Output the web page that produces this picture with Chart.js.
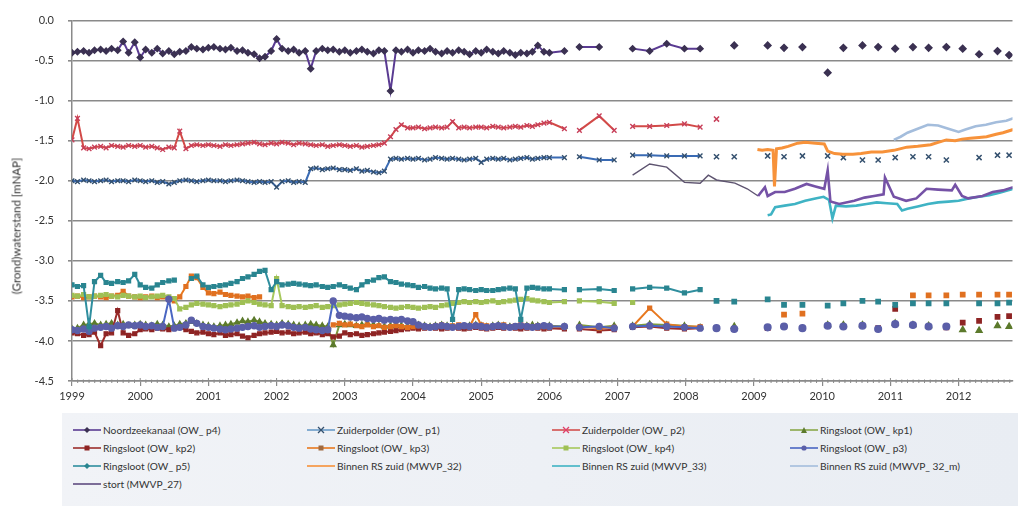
<!DOCTYPE html>
<html>
<head>
<meta charset="utf-8">
<script src="https://cdn.jsdelivr.net/npm/chart.js@4.4.1/dist/chart.umd.min.js"></script>
<style>
html, body { margin: 0; padding: 0; background: #fff; }
#wrap { position: relative; width: 1018px; height: 506px; overflow: hidden; font-family: Lato, "Open Sans", sans-serif; }
#chartBox { position: absolute; left: 0; top: 0; width: 1018px; height: 412px; }
#ytitle { position: absolute; left: 16px; top: 226px; transform: translate(-50%, -50%) rotate(-90deg); font-size: 11.5px; color: #333; white-space: nowrap; }
#legend { position: absolute; left: 62px; top: 413px; width: 956px; height: 93px; background: linear-gradient(90deg, #f1f3f7, #e9edf3); }
.lg { position: absolute; font-size: 10.2px; color: #333; white-space: nowrap; height: 12px; line-height: 12px; display: flex; align-items: center; }
.lg svg { margin-right: 2px; }
</style>
</head>
<body>
<div id="wrap">
  <div id="chartBox"><canvas id="canva1" width="1018" height="412"></canvas></div>
  <div id="ytitle">(Grond)waterstand [mNAP]</div>
  <div id="legend"></div>
</div>
<script>
// assen
var yearTicks = [1999, 2000, 2001, 2002, 2003, 2004, 2005, 2006, 2007, 2008, 2009, 2010, 2011, 2012];
var yTicks = [0, -0.5, -1, -1.5, -2, -2.5, -3, -3.5, -4, -4.5];

var seriesNames = ['Noordzeekanaal (OW_ p4)', 'Zuiderpolder (OW_ p1)', 'Zuiderpolder (OW_ p2)', 'Ringsloot (OW_ kp1)',
  'Ringsloot (OW_ kp2)', 'Ringsloot (OW_ kp3)', 'Ringsloot (OW_ kp4)', 'Ringsloot (OW_ p3)',
  'Ringsloot (OW_ p5)', 'Binnen RS zuid (MWVP_32)', 'Binnen RS zuid (MWVP_33)', 'Binnen RS zuid (MWVP_ 32_m)',
  'stort  (MWVP_27)'];

// meetdata 1999-2006 (maandelijks)
var tDense = [
  1999.00,1999.08,1999.17,1999.25,1999.33,1999.42,1999.50,1999.58,1999.67,1999.75,1999.83,1999.92,
  2000.00,2000.08,2000.17,2000.25,2000.33,2000.42,2000.50,2000.58,2000.67,2000.75,2000.83,2000.92,
  2001.00,2001.08,2001.17,2001.25,2001.33,2001.42,2001.50,2001.58,2001.67,2001.75,2001.83,2001.92,
  2002.00,2002.08,2002.17,2002.25,2002.33,2002.42,2002.50,2002.58,2002.67,2002.75,2002.83,2002.92,
  2003.00,2003.08,2003.17,2003.25,2003.33,2003.42,2003.50,2003.58,2003.67,2003.75,2003.83,2003.92,
  2004.00,2004.08,2004.17,2004.25,2004.33,2004.42,2004.50,2004.58,2004.67,2004.75,2004.83,2004.92,
  2005.00,2005.08,2005.17,2005.25,2005.33,2005.42,2005.50,2005.58,2005.67,2005.75,2005.83,2005.92,
  2006.00];

var nzkDense = [
  -0.40,-0.39,-0.38,-0.40,-0.37,-0.36,-0.38,-0.35,-0.37,-0.26,-0.40,-0.27,
  -0.46,-0.36,-0.40,-0.35,-0.41,-0.38,-0.42,-0.39,-0.38,-0.33,-0.35,-0.36,
  -0.34,-0.33,-0.35,-0.36,-0.34,-0.38,-0.37,-0.40,-0.42,-0.47,-0.45,-0.38,
  -0.23,-0.35,-0.38,-0.36,-0.40,-0.38,-0.60,-0.38,-0.35,-0.37,-0.36,-0.39,
  -0.37,-0.40,-0.38,-0.36,-0.39,-0.41,-0.37,-0.38,-0.88,-0.37,-0.39,-0.36,
  -0.40,-0.37,-0.38,-0.35,-0.39,-0.41,-0.38,-0.40,-0.37,-0.39,-0.42,-0.38,
  -0.40,-0.36,-0.39,-0.41,-0.38,-0.40,-0.43,-0.40,-0.41,-0.39,-0.31,-0.39,
  -0.40];
var p1Dense = [
  -2.00,-2.01,-1.99,-2.00,-2.01,-2.00,-1.99,-2.01,-2.00,-2.00,-2.01,-1.99,
  -2.00,-2.01,-2.00,-2.02,-2.01,-2.04,-2.02,-2.00,-1.99,-2.00,-2.01,-2.00,
  -1.99,-2.00,-2.00,-2.01,-2.00,-1.99,-2.00,-2.01,-2.02,-2.01,-2.02,-2.01,
  -2.08,-2.01,-2.00,-2.02,-2.01,-2.02,-1.85,-1.84,-1.86,-1.85,-1.84,-1.86,
  -1.86,-1.87,-1.85,-1.88,-1.87,-1.89,-1.90,-1.88,-1.73,-1.72,-1.73,-1.72,
  -1.73,-1.72,-1.74,-1.73,-1.71,-1.72,-1.73,-1.72,-1.73,-1.74,-1.73,-1.72,
  -1.77,-1.73,-1.72,-1.73,-1.72,-1.74,-1.73,-1.72,-1.71,-1.73,-1.72,-1.71,
  -1.71];
var p2Dense = [
  -1.49,-1.22,-1.59,-1.60,-1.58,-1.57,-1.59,-1.56,-1.57,-1.58,-1.56,-1.57,
  -1.56,-1.58,-1.57,-1.59,-1.61,-1.58,-1.59,-1.38,-1.60,-1.56,-1.55,-1.56,
  -1.55,-1.56,-1.57,-1.55,-1.56,-1.55,-1.54,-1.53,-1.52,-1.54,-1.55,-1.53,
  -1.54,-1.52,-1.53,-1.55,-1.53,-1.54,-1.55,-1.56,-1.55,-1.57,-1.56,-1.55,
  -1.56,-1.57,-1.56,-1.58,-1.57,-1.56,-1.55,-1.53,-1.45,-1.36,-1.30,-1.34,
  -1.34,-1.33,-1.35,-1.34,-1.33,-1.34,-1.33,-1.26,-1.34,-1.33,-1.34,-1.33,
  -1.33,-1.34,-1.32,-1.33,-1.34,-1.33,-1.32,-1.33,-1.31,-1.32,-1.30,-1.28,
  -1.27];
var kp1Dense = [
  -3.85,-3.84,-3.80,-3.79,-3.78,-3.80,-3.79,-3.78,-3.80,-3.79,-3.81,-3.80,
  -3.79,-3.80,-3.81,-3.79,-3.80,-3.82,-3.81,-3.79,-3.78,-3.76,-3.78,-3.80,
  -3.81,-3.82,-3.81,-3.80,-3.79,-3.77,-3.75,-3.76,-3.74,-3.76,-3.78,-3.79,
  -3.80,-3.78,-3.79,-3.80,-3.81,-3.80,-3.79,-3.80,-3.81,-3.82,-4.05,-3.80,
  -3.79,-3.80,-3.81,-3.80,-3.79,-3.80,-3.81,-3.82,-3.81,-3.80,-3.81,-3.82,
  -3.81,-3.80,-3.81,-3.82,-3.81,-3.80,-3.81,-3.82,-3.83,-3.82,-3.81,-3.80,
  -3.81,-3.82,-3.81,-3.80,-3.81,-3.82,-3.83,-3.82,-3.81,-3.80,-3.81,-3.82,
  -3.81];
var kp2Dense = [
  -3.90,-3.91,-3.93,-3.92,-3.89,-4.06,-3.91,-3.90,-3.62,-3.90,-3.93,-3.91,
  -3.86,-3.85,-3.86,-3.84,-3.85,-3.86,-3.84,-3.83,-3.86,-3.88,-3.90,-3.89,
  -3.91,-3.92,-3.90,-3.93,-3.92,-3.91,-3.94,-3.96,-3.93,-3.91,-3.90,-3.89,
  -3.88,-3.90,-3.89,-3.91,-3.90,-3.89,-3.91,-3.90,-3.92,-3.91,-3.95,-3.94,
  -3.90,-3.92,-3.91,-3.93,-3.92,-3.91,-3.90,-3.89,-3.88,-3.87,-3.86,-3.85,
  -3.84,-3.85,-3.84,-3.83,-3.84,-3.85,-3.84,-3.83,-3.84,-3.85,-3.84,-3.83,
  -3.84,-3.85,-3.84,-3.83,-3.84,-3.83,-3.84,-3.85,-3.84,-3.83,-3.84,-3.85,
  -3.84];
var kp3Dense = [
  -3.45,-3.44,-3.46,-3.45,-3.44,-3.45,-3.46,-3.44,-3.43,-3.38,-3.44,-3.45,
  -3.46,-3.45,-3.44,-3.46,-3.45,-3.47,-3.50,-3.45,-3.32,-3.19,-3.21,-3.33,
  -3.40,-3.41,-3.39,-3.42,-3.43,-3.44,-3.45,-3.44,-3.46,-3.45,null,null,
  null,null,null,null,null,null,null,null,null,null,-3.80,-3.78,
  -3.80,-3.79,-3.81,-3.82,-3.80,-3.82,-3.81,-3.83,-3.82,-3.81,-3.82,-3.83,
  -3.82,-3.81,-3.83,-3.82,-3.81,-3.80,-3.82,-3.81,-3.80,-3.81,-3.82,-3.67,
  -3.80,-3.81,-3.82,-3.81,-3.80,-3.82,-3.81,-3.80,-3.81,-3.82,-3.81,-3.82,
  -3.82];
var kp4Dense = [
  -3.43,-3.44,-3.42,-3.45,-3.44,-3.43,-3.42,-3.44,-3.45,-3.43,-3.44,-3.45,
  -3.44,-3.46,-3.45,-3.44,-3.43,-3.45,-3.47,-3.60,-3.58,-3.55,-3.53,-3.54,
  -3.55,-3.56,-3.57,-3.56,-3.55,-3.54,-3.52,-3.50,-3.52,-3.54,-3.55,-3.56,
  -3.22,-3.56,-3.57,-3.58,-3.57,-3.58,-3.57,-3.56,-3.58,-3.57,-3.56,-3.55,
  -3.54,-3.53,-3.52,-3.53,-3.54,-3.55,-3.56,-3.57,-3.58,-3.59,-3.58,-3.57,
  -3.58,-3.59,-3.58,-3.57,-3.58,-3.56,-3.55,-3.53,-3.52,-3.51,-3.52,-3.51,
  -3.52,-3.51,-3.50,-3.52,-3.51,-3.50,-3.49,-3.48,-3.47,-3.49,-3.50,-3.51,
  -3.52];
var p3Dense = [
  -3.86,-3.87,-3.85,-3.88,-3.84,-3.83,-3.82,-3.84,-3.81,-3.82,-3.80,-3.81,
  -3.80,-3.82,-3.81,-3.83,-3.82,-3.48,-3.84,-3.83,-3.80,-3.74,-3.78,-3.82,
  -3.83,-3.84,-3.85,-3.86,-3.85,-3.84,-3.83,-3.82,-3.81,-3.83,-3.82,-3.81,
  -3.82,-3.80,-3.81,-3.83,-3.84,-3.83,-3.85,-3.86,-3.87,-3.86,-3.50,-3.68,
  -3.69,-3.70,-3.71,-3.70,-3.72,-3.73,-3.72,-3.74,-3.73,-3.74,-3.73,-3.75,
  -3.76,-3.80,-3.82,-3.83,-3.82,-3.81,-3.82,-3.83,-3.82,-3.81,-3.82,-3.81,
  -3.82,-3.83,-3.82,-3.81,-3.82,-3.83,-3.82,-3.81,-3.82,-3.83,-3.82,-3.81,
  -3.82];
var p5Dense = [
  -3.30,-3.32,-3.31,-3.82,-3.26,-3.18,-3.27,-3.28,-3.26,-3.27,-3.25,-3.17,
  -3.30,-3.33,-3.34,-3.30,-3.27,-3.25,-3.24,null,null,-3.22,-3.19,-3.30,
  -3.33,-3.32,-3.31,-3.30,-3.28,-3.26,-3.22,-3.20,-3.17,-3.13,-3.12,-3.36,
  -3.26,-3.30,-3.29,-3.28,-3.29,-3.30,-3.31,-3.30,-3.32,-3.33,-3.32,-3.30,
  -3.32,-3.34,-3.36,-3.30,-3.26,-3.24,-3.21,-3.20,-3.26,-3.27,-3.29,-3.30,
  -3.31,-3.33,-3.32,-3.34,-3.35,-3.34,-3.35,-3.73,-3.36,-3.35,-3.36,-3.37,
  -3.36,-3.37,-3.37,-3.36,-3.35,-3.34,-3.35,-3.73,-3.34,-3.33,-3.34,-3.35,
  -3.35];

// losse metingen 2006-2008 (null = onderbreking)
var tLink = [2006.22, 2006.33, 2006.44, 2006.73, 2006.95, 2007.08, 2007.22, 2007.47, 2007.72, 2007.98, 2008.21];
var nzkLink = [-0.38, null, -0.33, -0.33, null, null, -0.35, -0.38, -0.29, -0.35, -0.35];
var p1Link  = [-1.71, null, -1.70, -1.74, -1.74, null, -1.68, -1.68, -1.69, -1.69, -1.69];
var p2Link  = [-1.35, null, -1.37, -1.19, -1.37, null, -1.32, -1.32, -1.31, -1.29, -1.33];
var kp1Link = [-3.82, null, -3.80, -3.83, -3.81, null, -3.81, -3.79, -3.80, -3.81, -3.83];
var kp2Link = [-3.85, null, -3.85, -3.87, -3.86, null, -3.83, -3.82, -3.84, -3.85, -3.84];
var kp3Link = [-3.83, null, -3.82, -3.84, -3.83, null, -3.82, -3.59, -3.79, -3.82, -3.82];
var kp4Link = [-3.51, null, -3.50, -3.51, -3.53, null, -3.52, null, null, null, null];
var p3Link  = [-3.82, null, -3.83, -3.82, -3.84, null, -3.82, -3.81, -3.82, -3.83, -3.84];
var p5Link  = [-3.36, null, -3.36, -3.35, -3.37, null, -3.35, -3.33, -3.34, -3.40, -3.36];

// losse punten 2008-2012
var tDots = [2008.45, 2008.71, 2009.20, 2009.44, 2009.71, 2010.08, 2010.31, 2010.59, 2010.82, 2011.07, 2011.33, 2011.56, 2011.82, 2012.06, 2012.30, 2012.57, 2012.74];
var nzkDots = [null, -0.31, -0.31, -0.34, -0.33, -0.65, -0.34, -0.31, -0.33, -0.35, -0.33, -0.34, -0.33, -0.35, -0.42, -0.38, -0.43];
var p1Dots  = [-1.70, -1.70, -1.69, -1.70, -1.69, -1.69, -1.71, -1.74, -1.74, -1.71, -1.70, -1.70, -1.74, null, -1.71, -1.68, -1.68];
var p2Dots  = [-1.23, null, null, null, null, null, null, null, null, null, null, null, null, null, null, null, null];
var kp1Dots = [null, -3.82, null, null, null, -3.80, -3.80, -3.80, null, -3.78, -3.80, -3.81, null, -3.86, -3.87, -3.81, -3.82];
var kp2Dots = [null, null, -3.84, null, null, null, null, null, -3.84, -3.60, null, null, -3.83, -3.77, -3.75, -3.70, -3.69];
var kp3Dots = [null, null, null, -3.67, -3.66, null, null, null, null, null, -3.43, -3.43, -3.43, -3.42, -3.42, -3.42, -3.42];
var p3Dots  = [-3.84, -3.85, -3.83, -3.82, -3.84, -3.81, -3.82, -3.81, -3.85, -3.79, -3.80, -3.82, -3.82, null, null, null, null];
var p5Dots  = [-3.50, -3.51, -3.48, -3.55, -3.55, -3.56, -3.53, -3.50, -3.51, -3.55, -3.53, -3.53, -3.53, null, -3.53, -3.53, -3.52];

// peilbuizen
var mw32T = [2009.05, 2009.12, 2009.20, 2009.28, 2009.30, 2009.33, 2009.41, 2009.50, 2009.64, 2009.75, 2009.90, 2010.03, 2010.08, 2010.18, 2010.30, 2010.45, 2010.57, 2010.72, 2010.88, 2011.05, 2011.24, 2011.40, 2011.59, 2011.70, 2011.82, 2011.95, 2012.05, 2012.17, 2012.30, 2012.41, 2012.55, 2012.65, 2012.80];
var mw32V = [-1.61, -1.62, -1.61, -1.62, -2.07, -1.60, -1.59, -1.57, -1.53, -1.52, -1.53, -1.54, -1.63, -1.66, -1.67, -1.67, -1.66, -1.64, -1.64, -1.62, -1.58, -1.57, -1.55, -1.52, -1.49, -1.50, -1.48, -1.47, -1.46, -1.45, -1.42, -1.40, -1.36];
var mw33T = [2009.20, 2009.25, 2009.31, 2009.45, 2009.60, 2009.75, 2009.90, 2010.02, 2010.10, 2010.15, 2010.20, 2010.35, 2010.50, 2010.65, 2010.80, 2010.95, 2011.10, 2011.17, 2011.25, 2011.40, 2011.55, 2011.70, 2011.85, 2012.00, 2012.15, 2012.30, 2012.45, 2012.60, 2012.80];
var mw33V = [-2.43, -2.42, -2.33, -2.31, -2.29, -2.25, -2.22, -2.20, -2.24, -2.47, -2.31, -2.32, -2.31, -2.29, -2.27, -2.28, -2.29, -2.37, -2.35, -2.32, -2.29, -2.27, -2.26, -2.25, -2.22, -2.20, -2.18, -2.15, -2.10];
var mw32mT = [2011.05, 2011.15, 2011.25, 2011.40, 2011.55, 2011.70, 2011.85, 2012.00, 2012.10, 2012.25, 2012.40, 2012.55, 2012.70, 2012.80];
var mw32mV = [-1.49, -1.45, -1.40, -1.35, -1.30, -1.31, -1.35, -1.39, -1.36, -1.32, -1.30, -1.27, -1.25, -1.22];
var stortT = [2007.22, 2007.47, 2007.72, 2007.98, 2008.21, 2008.33, 2008.45, 2008.72, 2008.90, 2009.06, 2009.16, 2009.20, 2009.31, 2009.45, 2009.60, 2009.77, 2009.90, 2010.03, 2010.08, 2010.12, 2010.25, 2010.47, 2010.62, 2010.76, 2010.90, 2010.92, 2011.05, 2011.23, 2011.38, 2011.53, 2011.70, 2011.90, 2011.95, 2012.05, 2012.14, 2012.35, 2012.50, 2012.65, 2012.80];
var stortV = [-1.93, -1.79, -1.83, -2.02, -2.03, -1.93, -1.99, -2.03, -2.10, -2.19, -2.08, -2.19, -2.14, -2.14, -2.10, -2.04, -2.07, -2.10, -1.87, -2.26, -2.29, -2.25, -2.21, -2.19, -2.17, -1.96, -2.20, -2.25, -2.22, -2.10, -2.11, -2.12, -2.05, -2.19, -2.22, -2.19, -2.14, -2.12, -2.08];

// stijl per reeks
var owSeries = [
  { dense: nzkDense, link: nzkLink, dots: nzkDots, line: '#5a3b92', mark: '#3b3152', style: 'rectRot', r: 3 },
  { dense: p1Dense, link: p1Link, dots: p1Dots, line: '#3a6bb4', mark: '#34506e', style: 'crossRot', r: 3.3 },
  { dense: p2Dense, link: p2Link, dots: p2Dots, line: '#d24a48', mark: '#c8405a', style: 'crossRot', r: 3.3 },
  { dense: kp1Dense, link: kp1Link, dots: kp1Dots, line: '#7d9a3e', mark: '#5c7a2c', style: 'triangle', r: 3 },
  { dense: kp2Dense, link: kp2Link, dots: kp2Dots, line: '#9b2d2b', mark: '#8e2424', style: 'rect', r: 2.7 },
  { dense: kp3Dense, link: kp3Link, dots: kp3Dots, line: '#e8781e', mark: '#e07020', style: 'rect', r: 2.7 },
  { dense: kp4Dense, link: kp4Link, dots: null, line: '#a7c85c', mark: '#9fc055', style: 'rect', r: 2.7 },
  { dense: p3Dense, link: p3Link, dots: p3Dots, line: '#4a66c2', mark: '#5b5fa8', style: 'circle', r: 3 },
  { dense: p5Dense, link: p5Link, dots: p5Dots, line: '#2f8e9e', mark: '#2a8590', style: 'rect', r: 2.7 }
];
var pbSeries = [
  { t: mw32T, v: mw32V, line: '#f7923a', w: 3 },
  { t: mw33T, v: mw33V, line: '#3fb3c4', w: 2.6 },
  { t: mw32mT, v: mw32mV, line: '#a4bddc', w: 2.6 },
  { t: stortT, v: stortV, line: '#7552a6', w: 2.6, early: '#5e5470' }
];

var datasets = [];
var volgorde = 200;

owSeries.forEach(function (s) {
  var pts = tDense.map(function (t, k) { return { x: t, y: s.dense[k] }; })
    .concat(tLink.map(function (t, k) { return { x: t, y: s.link[k] }; }));
  datasets.push({
    data: pts, borderColor: s.line, backgroundColor: s.mark, borderWidth: 2,
    pointStyle: s.style, pointRadius: s.r, pointBackgroundColor: s.mark, pointBorderColor: s.mark,
    pointBorderWidth: 1.4, spanGaps: false, tension: 0, order: volgorde--
  });
  if (s.dots) {
    datasets.push({
      data: tDots.map(function (t, k) { return { x: t, y: s.dots[k] }; }),
      showLine: false, pointStyle: s.style, pointRadius: s.r + 0.3, pointBackgroundColor: s.mark,
      pointBorderColor: s.mark, pointBorderWidth: 1.5, order: volgorde--
    });
  }
});

pbSeries.forEach(function (s) {
  var ds = {
    data: s.t.map(function (t, k) { return { x: t, y: s.v[k] }; }),
    borderColor: s.line, borderWidth: s.w, pointRadius: 0, tension: 0, order: volgorde--
  };
  if (s.early) {
    // stort: dunne lijn voor 2009
    ds.segment = {
      borderWidth: function (c) { return c.p0.parsed.x < 2009 ? 1.4 : s.w; },
      borderColor: function (c) { return c.p0.parsed.x < 2009 ? s.early : s.line; }
    };
  }
  datasets.push(ds);
});

// kleine maandstreepjes op de x-as
var asStreepjes = {
  id: 'asStreepjes',
  afterDraw: function (chart) {
    var sx = chart.scales.x, ctx = chart.ctx, b = chart.chartArea.bottom;
    ctx.save();
    ctx.strokeStyle = '#8a8a8a';
    ctx.lineWidth = 1;
    for (var m = 0; m < 12 * 14; m++) {
      var px = sx.getPixelForValue(1999 + m / 12);
      if (px > chart.chartArea.right) break;
      ctx.beginPath();
      if (m % 12 === 0) { ctx.moveTo(px, b - 3); ctx.lineTo(px, b); }
      else { ctx.moveTo(px, b - 1.5); ctx.lineTo(px, b + 2); }
      ctx.stroke();
    }
    ctx.restore();
  }
};

var ctx = document.getElementById('canva1').getContext('2d');
var myChart1 = new Chart(ctx, {
  type: 'line',
  data: { datasets: datasets },
  options: {
    responsive: false,
    animation: false,
    layout: { padding: { left: 0, right: 0, top: 13, bottom: 0 } },
    plugins: { legend: { display: false }, tooltip: { enabled: false } },
    scales: {
      x: {
        type: 'linear', min: 1999, max: 2012.79,
        afterBuildTicks: function (s) { s.ticks = yearTicks.map(function (v) { return { value: v }; }); },
        afterFit: function (s) { s.height = 31; },
        grid: { drawOnChartArea: false, color: '#8a8a8a', tickLength: 5, lineWidth: 1.2 },
        border: { color: '#8a8a8a', width: 1.5 },
        ticks: { color: '#333', font: { family: 'Lato', size: 11 }, padding: 4, maxRotation: 0, autoSkip: false,
          callback: function (v) { return String(v); } }
      },
      y: {
        min: -4.5, max: 0,
        afterBuildTicks: function (s) { s.ticks = yTicks.map(function (v) { return { value: v }; }); },
        afterFit: function (s) { s.width = 72; },
        grid: { color: '#8a8a8a', lineWidth: 1.6, tickLength: 4 },
        border: { color: '#8a8a8a', width: 1.5 },
        ticks: { color: '#333', font: { family: 'Lato', size: 11 }, padding: 14,
          callback: function (v) { return v.toFixed(1); } }
      }
    }
  },
  plugins: [asStreepjes]
});

// legenda
var legendStyles = [
  { line: '#5a3b92', mark: '#3b3152', style: 'diamond' },
  { line: '#6a9bc8', mark: '#34506e', style: 'cross' },
  { line: '#d2504e', mark: '#e0406a', style: 'cross' },
  { line: '#8aa84a', mark: '#5c7a2c', style: 'triangle' },
  { line: '#9b2d2b', mark: '#8e2424', style: 'rect' },
  { line: '#e8781e', mark: '#a06a40', style: 'rect' },
  { line: '#a7c85c', mark: '#9fc055', style: 'rect' },
  { line: '#4a66c2', mark: '#5b5fa8', style: 'circle' },
  { line: '#2f8e9e', mark: '#2a8590', style: 'diamond' },
  { line: '#f7923a', mark: null, style: null },
  { line: '#3fb3c4', mark: null, style: null },
  { line: '#a4bddc', mark: null, style: null },
  { line: '#5f4b80', mark: null, style: null }
];
var legendCols = [73, 307, 552, 790];
var legendRows = [17, 35, 53, 71];

function markerSvg(st) {
  var c = st.mark;
  if (st.style === 'diamond') return '<polygon points="14,2 17,5 14,8 11,5" fill="' + c + '"/>';
  if (st.style === 'cross') return '<path d="M11,2 L17,8 M17,2 L11,8" stroke="' + c + '" stroke-width="1.3"/>';
  if (st.style === 'triangle') return '<polygon points="14,2 17,8 11,8" fill="' + c + '"/>';
  if (st.style === 'rect') return '<rect x="11.5" y="2.5" width="5" height="5" fill="' + c + '"/>';
  if (st.style === 'circle') return '<circle cx="14" cy="5" r="2.6" fill="' + c + '"/>';
  return '';
}

var legend = document.getElementById('legend');
seriesNames.forEach(function (naam, i) {
  var st = legendStyles[i];
  var div = document.createElement('div');
  div.className = 'lg';
  div.style.left = (legendCols[i % 4] - 62) + 'px';
  div.style.top = (legendRows[Math.floor(i / 4)] - 6) + 'px';
  div.innerHTML = '<svg width="28" height="10"><line x1="0" y1="5" x2="28" y2="5" stroke="' + st.line +
    '" stroke-width="1.6"/>' + markerSvg(st) + '</svg><span>' + naam + '</span>';
  legend.appendChild(div);
});
</script>
</body>
</html>
